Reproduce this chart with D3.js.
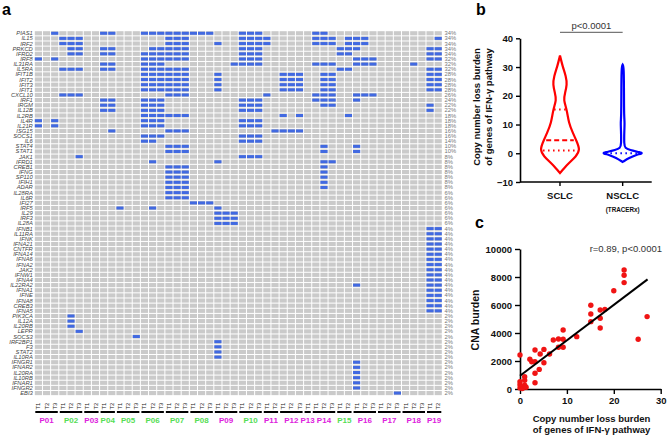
<!DOCTYPE html>
<html><head><meta charset="utf-8">
<script src="https://cdn.jsdelivr.net/npm/d3@7/dist/d3.min.js"></script>
<style>
html,body{margin:0;padding:0;background:#fff;}
svg{display:block;font-family:"Liberation Sans",Arial,sans-serif;}
</style></head>
<body><svg id="chart" width="667" height="435"></svg>
<script>
// ---------------- DATA ----------------
const genes = ["PIAS1","IL15","IRF2","PRKCD","IFRD2","IRF8","IL31RA","IL5RA","IFIT1B","IFIT2","IFIT3","IFIT1","CXCL10","IRF1","IRGM","IL12B","IL2RB","IL4R","IL21R","ISG15","SOCS1","IL6","STAT4","STAT1","JAK1","IFRD1","CREB1","IFNG","SP110","IFIH1","ADAR","IL28RA","IL6R","IFI27","IRF5","IL29","IRF3","IL28A","IFNB1","IL11RA","IFNK","IFNA21","CNTFR","IFNA14","IFNA6","IFNA2","JAK2","IFNW1","IFNA4","IL22RA2","IFNA1","IFNE","IFNA8","CREB3","IFNA5","PIK3CA","IL12A","IL20RB","LEPR","SOCS3","IRF2BP1","F3","STAT2","IL10RA","IFNGR1","IFNAR2","IL20RA","IL10RB","IFNAR1","IFNGR2","EBI3"];
const pctLabels = ["34%","34%","34%","34%","34%","32%","32%","32%","28%","28%","28%","28%","26%","24%","22%","22%","18%","18%","18%","16%","16%","14%","10%","10%","8%","8%","8%","8%","8%","8%","8%","6%","6%","6%","6%","6%","6%","6%","4%","4%","4%","4%","4%","4%","4%","4%","4%","4%","4%","4%","4%","4%","4%","4%","4%","2%","2%","2%","2%","2%","2%","2%","2%","2%","2%","2%","2%","2%","2%","2%","2%"];
const patients = ["P01","P02","P03","P04","P05","P06","P07","P08","P09","P10","P11","P12","P13","P14","P15","P16","P17","P18","P19"];
const patientTumours = [["T1","T2","T3"],["T1","T2","T3"],["T1","T2"],["T1","T2"],["T1","T2","T3"],["T1","T2","T3"],["T1","T2","T3"],["T1","T2","T3"],["T1","T2","T3"],["T1","T2","T3"],["T1","T2"],["T1","T2","T3"],["T1"],["T1","T2","T3"],["T1","T2"],["T1","T2","T3"],["T1","T2","T3"],["T1","T2","T3"],["T1","T2"]];
const patientClass = ["M","G","M","G","G","G","G","G","M","G","M","M","M","M","G","M","M","M","M"];
// sample (column) indices with copy-number loss, one list per gene
const lossCols = [
 [2,8,9,13,14,15,16,17,18,19,20,21,25,26,27,34,35],
 [3,4,5,16,17,18,25,26,27,28,34,35,36,38,39,40,49],
 [3,4,5,16,17,18,22,25,26,27,28,34,35,36,38,39,40],
 [4,5,8,9,14,15,16,17,18,25,26,27,37,38,39,48,49],
 [4,5,8,9,13,14,15,16,17,18,25,26,27,37,38,48,49],
 [0,2,13,14,15,16,17,18,25,26,27,39,40,41,48,49],
 [8,9,13,14,15,24,25,26,27,34,35,36,39,40,41,46],
 [3,4,5,8,9,13,14,15,16,17,18,37,38,48,49],
 [13,14,15,16,17,18,22,30,31,32,35,36,48,49],
 [13,14,15,16,17,18,22,30,31,32,35,36,48,49],
 [13,14,15,16,17,18,22,30,31,32,35,36,48,49],
 [13,14,15,16,17,18,22,30,31,32,35,36,48,49],
 [3,4,5,16,17,18,28,34,35,36,39,40,41],
 [8,9,13,14,15,25,26,27,34,35,36,39],
 [8,9,13,14,15,25,26,27,35,36,48],
 [8,9,13,14,15,25,26,27,48],
 [13,14,15,16,17,18,30,32,38],
 [0,2,13,14,15,25,26,27],
 [0,2,13,14,15,25,26,27],
 [9,16,17,18,29,30,31,32],
 [13,14,15,25,26,27],
 [13,14,25,26,27],
 [16,17,18,35,39],
 [16,17,18,35,39],
 [5,25,26,27],
 [14,22,35,36],
 [16,17,18,35],
 [16,17,18,35],
 [16,17,18,35],
 [16,17,18,35],
 [16,17,18,35],
 [16,17,18],
 [16,17,18],
 [19,20,21],
 [10,14,22],
 [22,23,24],
 [22,23,24],
 [22,23,24],
 [48,49],[48,49],[48,49],[48,49],[48,49],[48,49],[48,49],[48,49],[48,49],[48,49],[48,49],
 [39,48,49],
 [48,49],[48,49],[48,49],[48,49],[48,49],
 [4],[4],[4],[5],[12],[22],[22],[22],[22],
 [39],[39],[39],[39],[39],[39],
 [44]
];

// panel b: violin density profiles [value, relative density]
const violinCats = ["SCLC","NSCLC"];
const sclcProfile = [[-6.9,0],[-5.2,0.2],[-3.4,0.44],[-1.1,0.79],[1.2,1.0],[4.5,0.8],[7.0,0.64],[10.5,0.43],[15.2,0.34],[18.6,0.17],[21.0,0.25],[23.9,0.35],[26.7,0.3],[30.2,0.13],[34.0,0]];
const nsclcProfile = [[-3.0,0],[-1.6,0.33],[-0.6,0.64],[0,1.0],[0.3,0.88],[1.2,0.33],[1.8,0.12],[3,0.07],[8,0.08],[10.5,0.1],[13,0.07],[20,0.065],[30,0.06],[30.8,0]];
const sclcQuart = [1.0,4.5,15.2];
const nsclcQuart = [-0.2,0,0.2];
const yTicksB = [-10,0,10,20,30,40];

// panel c: scatter
const lossBurden = [0,0,0,0,0.3,0.5,1,1,1,1.3,2.1,2.5,3.2,3.2,3.2,3.2,4.1,4.3,5.1,5.1,6.3,7.1,8.2,8.2,9.2,9.2,9.2,12.1,15.1,15.1,15.1,17.1,17.1,17.1,18.1,20,22.2,22.2,22.2,25.2,27.1];
const cnaBurden = [2430,520,300,80,150,30,880,620,280,120,2120,1950,2790,1950,1120,450,1400,2500,2830,1880,2500,3500,3570,2980,4210,3550,2980,3740,5980,5360,4810,5640,5050,4360,5690,7020,8500,8120,7600,3550,5170];
const fitIntercept = 950, fitSlope = 253;
const fitRange = [0,27.2];
const yTicksC = [0,2000,4000,6000,8000,10000];
const xTicksC = [0,10,20,30];

// ---------------- DRAW ----------------
const svg = d3.select("#chart");
const BLUE = "#4169e1", GREY = "#cacaca";
const classColor = {M:"#dd22dd", G:"#55dd55"};

// ---- panel a ----
svg.append("text").attr("x",2).attr("y",15).attr("font-size",16).attr("font-weight","bold").text("a");
const nCols = d3.sum(patientTumours, d => d.length);
const colX = d3.scaleBand().domain(d3.range(nCols)).range([34.3, 442.3]);
const rowY = d3.scaleBand().domain(genes).range([30.7, 30.7 + 5.14*genes.length]);
const cw = colX.bandwidth(), rh = rowY.bandwidth();
const gA = svg.append("g");
genes.forEach((g, gi) => {
  const row = gA.append("g");
  row.selectAll("rect.bg").data(d3.range(nCols)).join("rect")
    .attr("x", c => colX(c)+0.5).attr("y", rowY(g)+0.5)
    .attr("width", cw-1).attr("height", rh-1).attr("fill", GREY);
  row.selectAll("rect.loss").data(lossCols[gi]).join("rect")
    .attr("x", c => colX(c)+0.5).attr("y", rowY(g)+rh/2-1.5)
    .attr("width", cw-1).attr("height", 3).attr("fill", BLUE);
});
gA.selectAll("text.gene").data(genes).join("text")
  .attr("x", 32.8).attr("y", g => rowY(g)+rh/2+2)
  .attr("text-anchor","end").attr("font-size",5.8).attr("font-style","italic").attr("fill","#444")
  .text(g => g);
gA.selectAll("text.pct").data(pctLabels).join("text")
  .attr("x", 444.5).attr("y", (p,i) => rowY(genes[i])+rh/2+2)
  .attr("font-size",5.8).attr("fill","#777").text(p => p);
// x labels
let col = 0;
patients.forEach((p, pi) => {
  const tums = patientTumours[pi];
  const start = col;
  tums.forEach(t => {
    const cx = colX(col) + cw/2;
    gA.append("text").attr("transform", `translate(${cx+2},409.5) rotate(-90)`)
      .attr("font-size",5.8).attr("fill","#222").text(t);
    col++;
  });
  const x1 = colX(start)+1, x2 = colX(col-1)+cw-1;
  gA.append("line").attr("x1",x1).attr("x2",x2).attr("y1",412).attr("y2",412)
    .attr("stroke","#000").attr("stroke-width",2);
  gA.append("text").attr("x",(x1+x2)/2).attr("y",423).attr("text-anchor","middle")
    .attr("font-size",8).attr("font-weight","bold").attr("fill",classColor[patientClass[pi]]).text(p);
});

// ---- panel b ----
svg.append("text").attr("x",476).attr("y",15).attr("font-size",16).attr("font-weight","bold").text("b");
const yB = d3.scaleLinear().domain([-10,40]).range([182,38.3]);
const xB = d3.scaleBand().domain(violinCats).range([528.65,654]);
const wB = d3.scaleLinear().domain([0,1]).range([0,20.3]);
const gB = svg.append("g");
const yAxB = gB.append("g").attr("transform","translate(520,0)")
  .call(d3.axisLeft(yB).tickValues(yTicksB).tickSize(4).tickSizeOuter(0));
yAxB.select(".domain").attr("stroke-width",1.6);
yAxB.selectAll(".tick line").attr("stroke-width",1.4);
yAxB.selectAll(".tick text").attr("font-size",9.5).attr("font-weight","bold").attr("font-family","Liberation Sans, Arial").attr("fill","#111");
gB.append("line").attr("x1",520).attr("x2",651.7).attr("y1",182).attr("y2",182).attr("stroke","#000").attr("stroke-width",1.6);
violinCats.forEach(c => {
  const cx = xB(c)+xB.bandwidth()/2;
  gB.append("line").attr("x1",cx).attr("x2",cx).attr("y1",182).attr("y2",186).attr("stroke","#000").attr("stroke-width",1.4);
  gB.append("text").attr("x",cx).attr("y",198.5).attr("text-anchor","middle").attr("font-size",9.5).attr("font-weight","bold").attr("fill","#111").text(c);
});
gB.append("text").attr("x",xB("NSCLC")+xB.bandwidth()/2).attr("y",211.5).attr("text-anchor","middle").attr("font-size",6.3).attr("font-weight","bold").attr("fill","#111").text("(TRACERx)");
function interpW(profile, v){
  for(let i=0;i<profile.length-1;i++){
    const a=profile[i], b=profile[i+1];
    if(v>=a[0] && v<=b[0]){ const t=(v-a[0])/(b[0]-a[0]); return a[1]+(b[1]-a[1])*t; }
  }
  return 0;
}
function drawViolin(cat, profile, quart, color){
  const cx = xB(cat)+xB.bandwidth()/2;
  const area = d3.area().curve(d3.curveBasis)
    .y(d => yB(d[0])).x0(d => cx - wB(d[1])).x1(d => cx + wB(d[1]));
  gB.append("path").datum(profile).attr("d",area).attr("fill","none").attr("stroke",color).attr("stroke-width",2.2);
  quart.forEach((q,i) => {
    const w = wB(interpW(profile,q))*0.85;
    gB.append("line").attr("x1",cx-w).attr("x2",cx+w).attr("y1",yB(q)).attr("y2",yB(q))
      .attr("stroke",color).attr("stroke-width",2)
      .attr("stroke-dasharray", i===1 ? "5,3" : "1.5,3.5");
  });
}
drawViolin("SCLC", sclcProfile, sclcQuart, "#ff0000");
drawViolin("NSCLC", nsclcProfile, [nsclcQuart[1]], "#0000ff");
// p bracket
const bx1 = xB("SCLC")+xB.bandwidth()/2, bx2 = xB("NSCLC")+xB.bandwidth()/2;
gB.append("line").attr("x1",bx1).attr("x2",bx2).attr("y1",32.3).attr("y2",32.3).attr("stroke","#555").attr("stroke-width",1);
gB.append("text").attr("x",(bx1+bx2)/2).attr("y",28.5).attr("text-anchor","middle").attr("font-size",9.5).attr("fill","#333").text("p<0.0001");
const tB = gB.append("text").attr("transform","translate(479.5,107) rotate(-90)").attr("text-anchor","middle")
  .attr("font-size",9.5).attr("font-weight","bold").attr("fill","#111");
tB.append("tspan").attr("x",0).attr("dy",0).text("Copy number loss burden");
tB.append("tspan").attr("x",0).attr("dy",12).text("of genes of IFN-γ pathway");

// ---- panel c ----
svg.append("text").attr("x",475).attr("y",228).attr("font-size",16).attr("font-weight","bold").text("c");
const yC = d3.scaleLinear().domain([0,10000]).range([389,249]);
const xC = d3.scaleLinear().domain([0,30]).range([520,660.7]);
const gC = svg.append("g");
const yAxC = gC.append("g").attr("transform","translate(520,0)")
  .call(d3.axisLeft(yC).tickValues(yTicksC).tickSize(5).tickSizeOuter(0).tickFormat(d3.format("d")));
const xAxC = gC.append("g").attr("transform","translate(0,389)")
  .call(d3.axisBottom(xC).tickValues(xTicksC).tickSize(5).tickSizeOuter(0));
[yAxC,xAxC].forEach(a => {
  a.select(".domain").attr("stroke-width",1.6);
  a.selectAll(".tick line").attr("stroke-width",1.4);
  a.selectAll(".tick text").attr("font-size",9.5).attr("font-weight","bold").attr("font-family","Liberation Sans, Arial").attr("fill","#111");
});
gC.selectAll("circle").data(lossBurden).join("circle")
  .attr("cx", d => xC(d)).attr("cy", (d,i) => yC(cnaBurden[i])).attr("r",2.7).attr("fill","#f01414");
gC.append("line").attr("x1",xC(fitRange[0])).attr("y1",yC(fitIntercept+fitSlope*fitRange[0]))
  .attr("x2",xC(fitRange[1])).attr("y2",yC(fitIntercept+fitSlope*fitRange[1]))
  .attr("stroke","#000").attr("stroke-width",2);
gC.append("text").attr("x",662).attr("y",252).attr("text-anchor","end").attr("font-size",9.5).attr("fill","#333").text("r=0.89, p<0.0001");
gC.append("text").attr("transform","translate(478.5,320) rotate(-90)").attr("text-anchor","middle")
  .attr("font-size",10.5).attr("font-weight","bold").attr("fill","#111").text("CNA burden");
const tC = gC.append("text").attr("text-anchor","middle").attr("font-size",9.5).attr("font-weight","bold").attr("fill","#111");
tC.append("tspan").attr("x",591.5).attr("y",422).text("Copy number loss burden");
tC.append("tspan").attr("x",591.5).attr("y",433).text("of genes of IFN-γ pathway");
</script></body></html>
